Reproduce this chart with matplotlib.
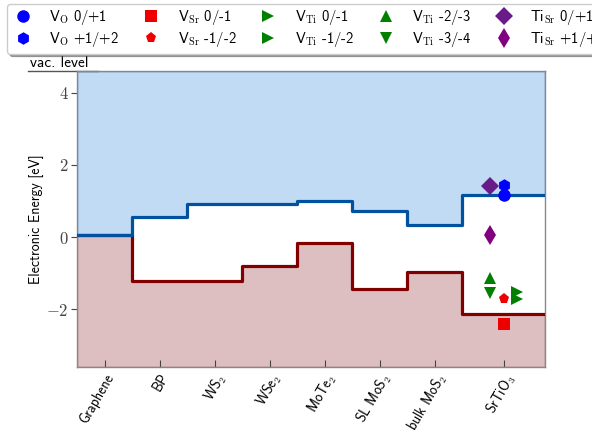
import matplotlib
matplotlib.use("Agg")
import matplotlib.pyplot as plt
import numpy as np
from matplotlib.transforms import blended_transform_factory

plt.rcParams["font.family"] = ["cmss10", "DejaVu Sans"]
plt.rcParams["mathtext.fontset"] = "cm"
plt.rcParams["axes.unicode_minus"] = False

# Materials and band edges (eV)
materials = ["Graphene", "BP", "WS$_2$", "WSe$_2$", "MoTe$_2$",
             "SL MoS$_2$", "bulk MoS$_2$", "SrTiO$_3$"]
cbm = [0.05, 0.55, 0.91, 0.92, 1.00, 0.71, 0.33, 1.16]
vbm = [0.05, -1.23, -1.21, -0.80, -0.17, -1.44, -0.98, -2.12]
widths = [1, 1, 1, 1, 1, 1, 1, 1.5]

# Defect transition levels in SrTiO3
defect_labels = [r"V$_\mathrm{O}$ 0/+1", r"V$_\mathrm{O}$ +1/+2",
                 r"V$_\mathrm{Sr}$ 0/-1", r"V$_\mathrm{Sr}$ -1/-2",
                 r"V$_\mathrm{Ti}$ 0/-1", r"V$_\mathrm{Ti}$ -1/-2",
                 r"V$_\mathrm{Ti}$ -2/-3", r"V$_\mathrm{Ti}$ -3/-4",
                 r"Ti$_\mathrm{Sr}$ 0/+1", r"Ti$_\mathrm{Sr}$ +1/+2"]
defect_levels = [1.16, 1.43, -2.42, -1.73, -1.53, -1.72, -1.14, -1.56, 1.42, 0.05]
defect_markers = ["o", "h", "s", "p", ">", ">", "^", "v", "D", "d"]
defect_colors = ["#0000ff", "#0000ff", "#ee0000", "#ee0000", "#007f00", "#007f00",
                 "#007f00", "#007f00", "#6a1b8a", "#800080"]
defect_offsets = [0.0, 0.0, 0.0, 0.0, 0.25, 0.25, -0.25, -0.25, -0.25, -0.25]
defect_sizes = [9, 9, 8, 8, 9, 9, 9, 9, 9, 10]

edges = np.concatenate([[0], np.cumsum(widths)])
centers = (edges[:-1] + edges[1:]) / 2
ymin, ymax = -3.6, 4.6

fig = plt.figure(figsize=(5.92, 4.34), dpi=100)
ax = fig.add_axes([77 / 592, 1 - 367 / 434, 468 / 592, 296 / 434])

cb_step = np.append(cbm, cbm[-1])
vb_step = np.append(vbm, vbm[-1])

ax.fill_between(edges, cb_step, ymax, step="post", facecolor="#c1dbf5",
                edgecolor="#5a8fcf", linewidth=1.0, zorder=1)
ax.fill_between(edges, ymin, vb_step, step="post", facecolor="#ddbfc1",
                edgecolor="#a87878", linewidth=1.0, zorder=1)
ax.step(edges, vb_step, where="post", color="#800000", lw=2.3, zorder=3)
ax.step(edges, cb_step, where="post", color="#0052a0", lw=2.3, zorder=3)

x0 = centers[-1]
handles = []
for lab, e, m, c, s, off in zip(defect_labels, defect_levels, defect_markers,
                                 defect_colors, defect_sizes, defect_offsets):
    h, = ax.plot([x0 + off], [e], linestyle="none", marker=m, color=c,
                 markersize=s, markeredgewidth=0, label=lab, zorder=4)
    handles.append(h)

ax.set_xlim(edges[0], edges[-1])
ax.set_ylim(ymin, ymax)
ax.set_xticks(centers)
ax.set_xticklabels(materials, rotation=60, ha="right", rotation_mode="anchor",
                   fontsize=10)
ax.set_yticks([-2, 0, 2, 4])
ax.set_yticklabels([r"$-2$", r"$0$", r"$2$", r"$4$"], fontsize=12, color="#444444")
ax.tick_params(axis="x", direction="in", length=5, color="#444444", pad=3)
ax.tick_params(axis="y", direction="out", length=4, color="#444444", pad=2)
for sp in ax.spines.values():
    sp.set_color("#888888")
    sp.set_linewidth(1.0)
ax.set_ylabel("Electronic Energy [eV]", fontsize=10, labelpad=1.5)

# vacuum level marker above the plot
tr = blended_transform_factory(ax.transAxes, ax.transData)
ax.plot([-0.105, 0.045], [ymax, ymax], color="#555555", lw=1.0,
        transform=tr, clip_on=False)
ax.text(-0.1, ymax + 0.03, "vac. level", transform=tr, fontsize=11,
        ha="left", va="bottom")

fig.legend(handles=handles, ncol=5, loc="upper left",
           bbox_to_anchor=(7 / 592, 1 - 4 / 434), fontsize=10.5,
           frameon=True, shadow=True, fancybox=True, handletextpad=1.0,
           columnspacing=1.4, borderpad=0.3, labelspacing=0.2,
           handlelength=1.6, borderaxespad=0)

fig.savefig("out.png", dpi=100)
